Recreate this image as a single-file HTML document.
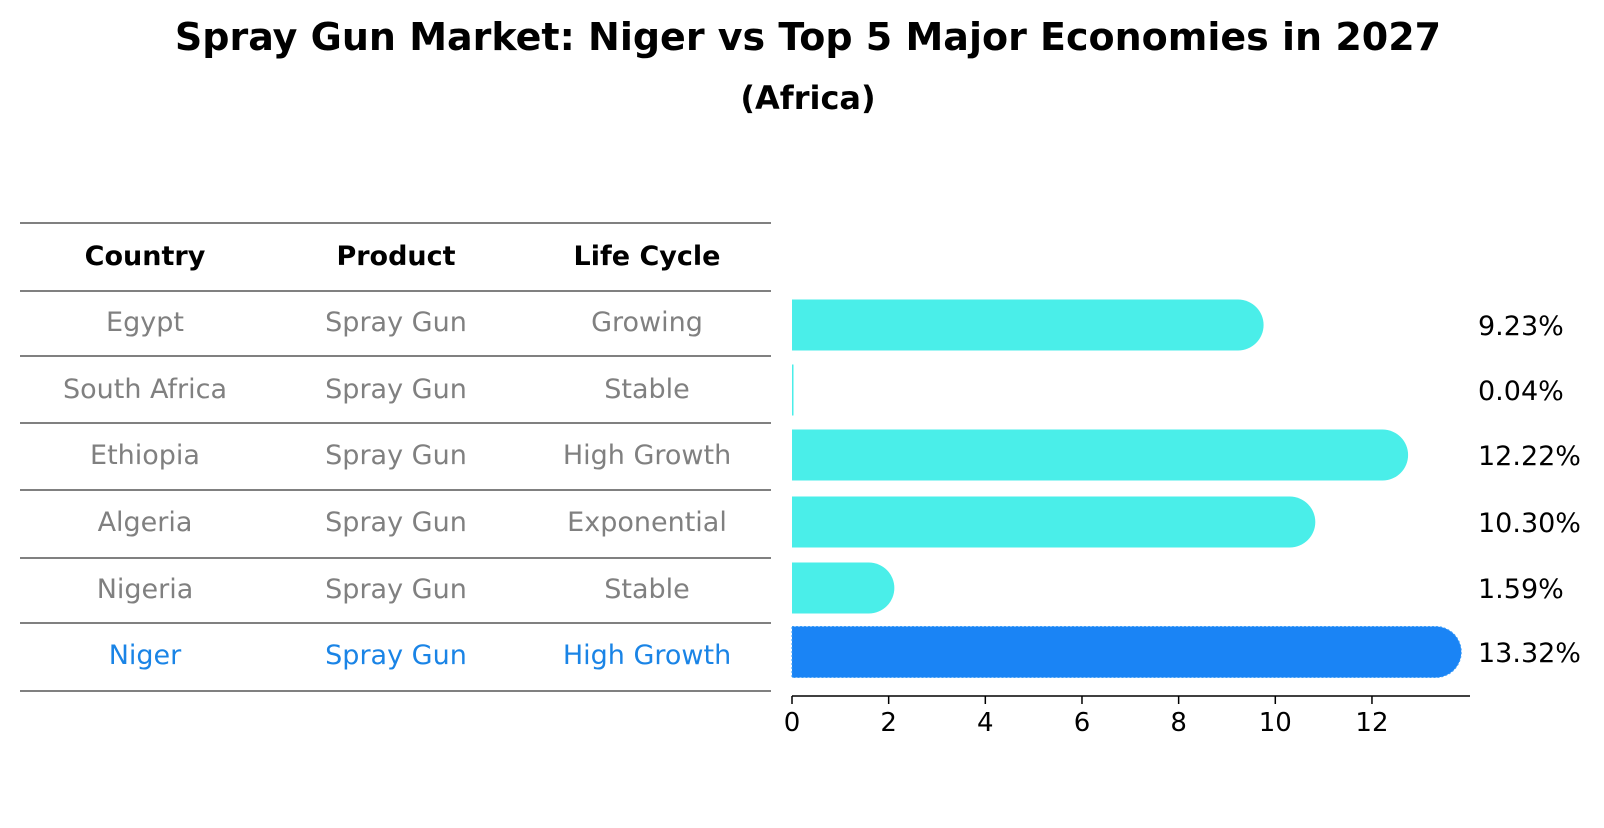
<!DOCTYPE html>
<html><head><meta charset="utf-8"><style>
body{margin:0;background:#fff;font-family:"Liberation Sans","DejaVu Sans",sans-serif}
</style></head><body>
<svg width="1604" height="823" xmlns="http://www.w3.org/2000/svg" font-family="DejaVu Sans, Liberation Sans, sans-serif">
<text x="808" y="50" text-anchor="middle" font-size="38" font-weight="bold">Spray Gun Market: Niger vs Top 5 Major Economies in 2027</text>
<text x="808" y="109" text-anchor="middle" font-size="32" font-weight="bold">(Africa)</text>
<g id="tbl"></g>
<g id="bars"></g>
</svg>
<script>
const countries=["Egypt","South Africa","Ethiopia","Algeria","Nigeria","Niger"];
const products=["Spray Gun","Spray Gun","Spray Gun","Spray Gun","Spray Gun","Spray Gun"];
const lifeCycles=["Growing","Stable","High Growth","Exponential","Stable","High Growth"];
const values=[9.23,0.04,12.22,10.30,1.59,13.32];
const ticks=[0,2,4,6,8,10,12];
const NS="http://www.w3.org/2000/svg";
function mk(t,a,p,txt){const e=document.createElementNS(NS,t);for(const k in a)e.setAttribute(k,a[k]);if(txt!==undefined)e.textContent=txt;p.appendChild(e);return e;}
const tbl=document.getElementById('tbl'),bars=document.getElementById('bars');
const lines=[223,291,356,423,490,558,623,691];
lines.forEach((y,i)=>{const l=mk('line',{x1:20,x2:771,y1:y,y2:y,stroke:'#000','stroke-width':1},tbl);

});
const cx=[145,396,647];
["Country","Product","Life Cycle"].forEach((h,i)=>{const t=mk('text',{x:cx[i],y:265,'text-anchor':'middle','font-size':27,'font-weight':'bold'},tbl,h);

});
const rowY=[325,390,455,522,588,652];
const txtY=[322,389,455,522,589,655];
countries.forEach((c,i)=>{const col=i===5?'#1a84e6':'#808080';
[c,products[i],lifeCycles[i]].forEach((v,j)=>{const t=mk('text',{x:cx[j],y:txtY[i]+9,'text-anchor':'middle','font-size':27,fill:col},tbl,v);

});});
const x0=792,ppu=48.33;
const X=v=>x0+v*ppu;
const bh=51;
values.forEach((v,i)=>{const y=rowY[i]-bh/2;
const color=i===5?'#1a84f5':'#4aeee9';
const d=`M${x0},${y} H${X(v)} A${bh/2},${bh/2} 0 0 1 ${X(v)},${y+bh} H${x0} Z`;
const p=mk('path',{d:v<0.2?`M${x0},${y} h1.5 v${bh} h-1.5 Z`:d,fill:color,stroke:i===5?'#3a9cf8':'none','stroke-dasharray':i===5?'2 2':'none'},bars);


const t=mk('text',{x:1478,y:rowY[i]+10,'font-size':27},bars,v.toFixed(2)+'%');

});
const ax=mk('line',{x1:x0,x2:1470,y1:696,y2:696,stroke:'#000','stroke-width':1.5},bars);


ticks.forEach(v=>{const l=mk('line',{x1:X(v),x2:X(v),y1:696,y2:704,stroke:'#000','stroke-width':1.5},bars);


const t=mk('text',{x:X(v),y:731,'text-anchor':'middle','font-size':26},bars,String(v));

});
</script>
</body></html>
